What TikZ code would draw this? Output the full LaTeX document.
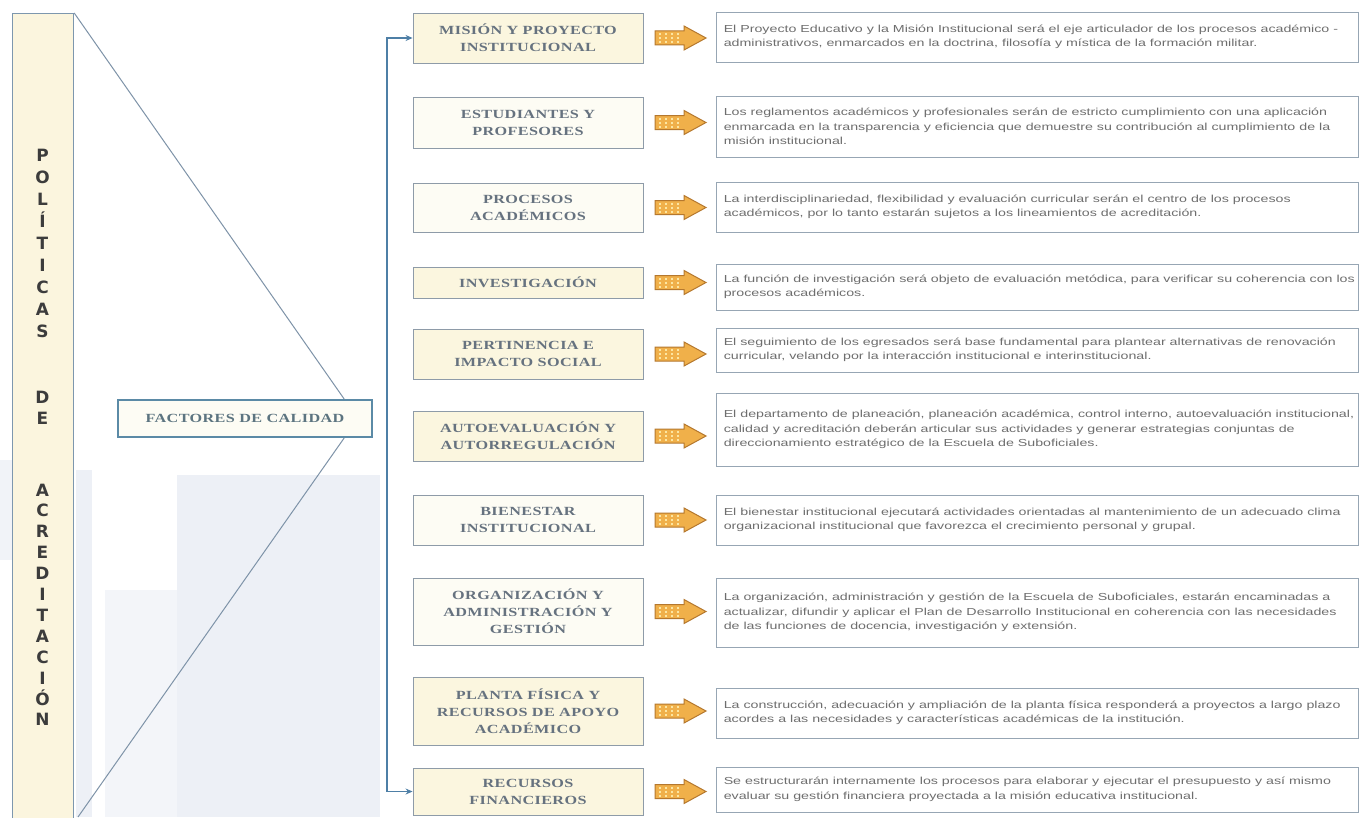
\documentclass[tikz,border=0pt]{standalone}
\usepackage{fontspec}
\usetikzlibrary{arrows.meta,calc}
\setmainfont{Liberation Sans}
\newfontfamily\bodyfont[FakeStretch=1.4]{Liberation Sans}
\newfontfamily\capsfont[FakeStretch=1.3,LetterSpace=3]{Liberation Serif}
\newfontfamily\barfont{DejaVu Sans}
\definecolor{barfill}{HTML}{FBF5DE}
\definecolor{barline}{HTML}{7D97AE}
\definecolor{lettercol}{HTML}{3C3C3C}
\definecolor{cream}{HTML}{FBF6DF}
\definecolor{pale}{HTML}{FDFCF4}
\definecolor{lboxline}{HTML}{8E9BA8}
\definecolor{captext}{HTML}{66727F}
\definecolor{factext}{HTML}{5C7480}
\definecolor{facline}{HTML}{5B8AA6}
\definecolor{rboxline}{HTML}{97A6B4}
\definecolor{bodytext}{HTML}{6E6E6E}
\definecolor{spinecol}{HTML}{4E7FA6}
\definecolor{trline}{HTML}{7E93A8}
\definecolor{arrfill}{HTML}{F0B04A}
\definecolor{arrline}{HTML}{B5782E}
\definecolor{arrstripe}{HTML}{FCE6A2}
\definecolor{wm}{HTML}{EDF0F6}
\begin{document}
\begin{tikzpicture}[x=1bp,y=-1bp,
  barletter/.style={anchor=base,inner sep=0pt,text=lettercol,font=\barfont\bfseries\fontsize{17}{17}\selectfont},
  lbox/.style={draw=lboxline,line width=0.9bp,fill=cream,minimum width=230bp,inner sep=0pt,align=center,text=captext,font=\capsfont\bfseries\fontsize{12.5}{17}\selectfont},
  lboxp/.style={lbox,fill=pale},
  facbox/.style={draw=facline,line width=2.2bp,fill=pale,minimum width=254bp,minimum height=37bp,inner sep=0pt,text=factext,font=\capsfont\bfseries\fontsize{12.5}{17}\selectfont},
  rbox/.style={draw=rboxline,line width=0.9bp,fill=white,minimum width=642bp,inner sep=0pt},
  rtext/.style={anchor=west,inner sep=0pt,align=left,text=bodytext,font=\bodyfont\fontsize{10.2}{14.5}\selectfont},
  spinel/.style={draw=spinecol,line width=1.1bp},
  trl/.style={draw=trline,line width=1bp},
  orarrow/.pic={
    \path[fill=arrfill,draw=arrline,line width=1bp] (-25,-7) -- (4,-7) -- (4,-12) -- (26,0) -- (4,12) -- (4,7) -- (-25,7) -- cycle;
    \foreach \xx in {-20,-14,-8,-2} \draw[arrstripe,line width=2bp,dash pattern=on 2bp off 2bp] (\xx,-5) -- (\xx,5);
  }]
\useasboundingbox (0,0) rectangle (1361,817);
\fill[white] (0,0) rectangle (1361,817);
% faint watermark of a building
\fill[wm] (177,475) rectangle (380,817);
\fill[wm!70!white] (105,590) rectangle (177,817);
\fill[wm] (76,470) rectangle (92,817);
\fill[wm!80!white] (0,460) rectangle (12,560);
% left bar
\node[draw=barline,fill=barfill,line width=1.2bp,minimum width=61bp,minimum height=830bp,inner sep=0pt,anchor=north west] (bar) at (12,13) {};
\foreach \l/\k in {P/0,O/1,L/2,Í/3,T/4,I/5,C/6,A/7,S/8}
  \node[barletter] (Lp\k) at (42.5,{161+22.1*\k}) {\l};
\node[barletter] (Ld1) at (42.5,403) {D};
\node[barletter] (Ld2) at (42.5,424) {E};
\foreach \l/\k in {A/0,C/1,R/2,E/3,D/4,I/5,T/6,A/7,C/8,I/9,Ó/10,N/11}
  \node[barletter] (La\k) at (42.5,{496+20.9*\k}) {\l};
% factores
\node[facbox] (fac) at (245,418.5) {FACTORES DE CALIDAD};
\coordinate (tb) at (78,817);
\draw[trl] (bar.north east) -- ($(fac.north east)+(-29,0)$);
\draw[trl] ($(fac.south east)+(-29,0)$) -- (tb);
% left boxes
\node[lbox,minimum height=50bp] (b1) at (528,38) {MISIÓN Y PROYECTO\\INSTITUCIONAL};
\node[lboxp,minimum height=51bp] (b2) at (528,122.5) {ESTUDIANTES Y\\PROFESORES};
\node[lboxp,minimum height=49bp] (b3) at (528,207.5) {PROCESOS\\ACADÉMICOS};
\node[lbox,minimum height=31bp] (b4) at (528,282.5) {INVESTIGACIÓN};
\node[lbox,minimum height=50bp] (b5) at (528,354) {PERTINENCIA E\\IMPACTO SOCIAL};
\node[lbox,minimum height=50bp] (b6) at (528,436) {AUTOEVALUACIÓN Y\\AUTORREGULACIÓN};
\node[lboxp,minimum height=50bp] (b7) at (528,520) {BIENESTAR\\INSTITUCIONAL};
\node[lboxp,minimum height=67bp] (b8) at (528,611.5) {ORGANIZACIÓN Y\\ADMINISTRACIÓN Y\\GESTIÓN};
\node[lbox,minimum height=68bp] (b9) at (528,711) {PLANTA FÍSICA Y\\RECURSOS DE APOYO\\ACADÉMICO};
\node[lbox,minimum height=47bp] (b10) at (528,791.5) {RECURSOS\\FINANCIEROS};
% spine
\coordinate (sx) at (387,0);
\draw[spinel,{Stealth[length=7bp,width=6bp]}-{Stealth[length=7bp,width=6bp]}] (b1.west) -| (sx |- b10.west) -- (b10.west);
% orange arrows
\foreach \yy in {38,122.5,207.5,282.5,354,436,520,611.5,711,791.5}
  \pic at (680,\yy) {orarrow};
% right boxes
\node[rbox,minimum height=50bp] (r1) at (1037,37) {};
\node[rbox,minimum height=61bp] (r2) at (1037,126.5) {};
\node[rbox,minimum height=50bp] (r3) at (1037,207) {};
\node[rbox,minimum height=46bp] (r4) at (1037,287) {};
\node[rbox,minimum height=44bp] (r5) at (1037,350) {};
\node[rbox,minimum height=73bp] (r6) at (1037,429.5) {};
\node[rbox,minimum height=50bp] (r7) at (1037,520) {};
\node[rbox,minimum height=69bp] (r8) at (1037,612.5) {};
\node[rbox,minimum height=50bp] (r9) at (1037,713) {};
\node[rbox,minimum height=45bp] (r10) at (1037,789.5) {};
\node[rtext] (t1) at ($(r1.west)+(8,0)$) {El Proyecto Educativo y la Misión Institucional será el eje articulador de los procesos académico -\\administrativos, enmarcados en la doctrina, filosofía y mística de la formación militar.};
\node[rtext] (t2) at ($(r2.west)+(8,0)$) {Los reglamentos académicos y profesionales serán de estricto cumplimiento con una aplicación\\enmarcada en la transparencia y eficiencia que demuestre su contribución al cumplimiento de la\\misión institucional.};
\node[rtext] (t3) at ($(r3.west)+(8,0)$) {La interdisciplinariedad, flexibilidad y evaluación curricular serán el centro de los procesos\\académicos, por lo tanto estarán sujetos a los lineamientos de acreditación.};
\node[rtext] (t4) at ($(r4.west)+(8,0)$) {La función de investigación será objeto de evaluación metódica, para verificar su coherencia con los\\procesos académicos.};
\node[rtext] (t5) at ($(r5.west)+(8,0)$) {El seguimiento de los egresados será base fundamental para plantear alternativas de renovación\\curricular, velando por la interacción institucional e interinstitucional.};
\node[rtext] (t6) at ($(r6.west)+(8,0)$) {El departamento de planeación, planeación académica, control interno, autoevaluación institucional,\\calidad y acreditación deberán articular sus actividades y generar estrategias conjuntas de\\direccionamiento estratégico de la Escuela de Suboficiales.};
\node[rtext] (t7) at ($(r7.west)+(8,0)$) {El bienestar institucional ejecutará actividades orientadas al mantenimiento de un adecuado clima\\organizacional institucional que favorezca el crecimiento personal y grupal.};
\node[rtext] (t8) at ($(r8.west)+(8,0)$) {La organización, administración y gestión de la Escuela de Suboficiales, estarán encaminadas a\\actualizar, difundir y aplicar el Plan de Desarrollo Institucional en coherencia con las necesidades\\de las funciones de docencia, investigación y extensión.};
\node[rtext] (t9) at ($(r9.west)+(8,0)$) {La construcción, adecuación y ampliación de la planta física responderá a proyectos a largo plazo\\acordes a las necesidades y características académicas de la institución.};
\node[rtext] (t10) at ($(r10.west)+(8,0)$) {Se estructurarán internamente los procesos para elaborar y ejecutar el presupuesto y así mismo\\evaluar su gestión financiera proyectada a la misión educativa institucional.};
\end{tikzpicture}
\end{document}
